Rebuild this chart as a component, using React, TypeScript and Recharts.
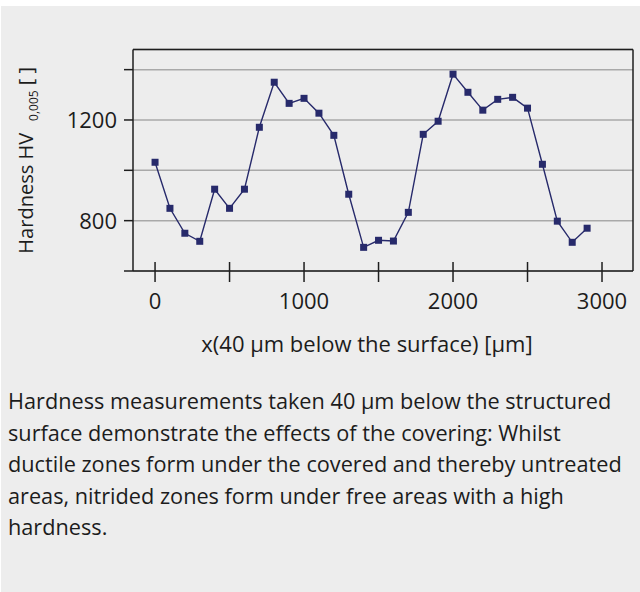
import { LineChart, Line, XAxis, YAxis, CartesianGrid, ReferenceLine } from "recharts";

const depthUm = [
  0, 100, 200, 300, 400, 500, 600, 700, 800, 900, 1000, 1100, 1200, 1300, 1400,
  1500, 1600, 1700, 1800, 1900, 2000, 2100, 2200, 2300, 2400, 2500, 2600, 2700, 2800, 2900,
];
const hardnessHV = [
  1032, 849, 750, 718, 925, 849, 925, 1171, 1350, 1266, 1286, 1227, 1139, 905, 694,
  722, 719, 833, 1143, 1195, 1382, 1310, 1239, 1282, 1290, 1247, 1024, 798, 714, 770,
];
const xTicks = [0, 500, 1000, 1500, 2000, 2500, 3000];
const xLabeled = [0, 1000, 2000, 3000];
const yTicks = [600, 800, 1000, 1200, 1400];
const yLabeled = [800, 1200];
const xDomain = [-148, 3208];
const yDomain = [600, 1480];

const captionLines = [
  "Hardness measurements taken 40 µm below the structured",
  "surface demonstrate the effects of the covering: Whilst",
  "ductile zones form under the covered and thereby untreated",
  "areas, nitrided zones form under free areas with a high",
  "hardness.",
];

const data = depthUm.map((x, i) => ({ x, hv: hardnessHV[i] }));

const FONT = "'Open Sans', sans-serif";
const TEXT = "#1c1c1c";
const NAVY = "#272a6b";
const FRAME = "#1e1e1e";

function XTick(props: any) {
  const { x, y, payload } = props;
  return (
    <g>
      <line x1={x} x2={x} y1={y - 9} y2={y + 11} stroke={FRAME} strokeWidth={1.5} />
      {xLabeled.includes(payload.value) && (
        <text x={x} y={y + 38} textAnchor="middle" fontSize={22} fontFamily={FONT} fill={TEXT}>
          {payload.value}
        </text>
      )}
    </g>
  );
}

function YTick(props: any) {
  const { x, y, payload } = props;
  if (!yLabeled.includes(payload.value)) return null;
  return (
    <text x={x} y={y} dy={8} textAnchor="end" fontSize={22} fontFamily={FONT} fill={TEXT}>
      {payload.value}
    </text>
  );
}

function SquareDot(props: any) {
  const { cx, cy, index } = props;
  return <rect key={index} x={cx - 3.5} y={cy - 3.5} width={7} height={7} fill={NAVY} />;
}

function YLabel(props: any) {
  const vb = props.viewBox;
  const cy = vb.y + vb.height / 2;
  return (
    <text
      x={33}
      y={cy}
      transform={`rotate(-90, 33, ${cy})`}
      textAnchor="middle"
      fontSize={20}
      fontFamily={FONT}
      fill={TEXT}
    >
      Hardness HV
      <tspan dx={12} dy={5} fontSize={12}>0,005</tspan>
      <tspan dy={-5} fontSize={20}> [ ]</tspan>
    </text>
  );
}

function XLabel(props: any) {
  const vb = props.viewBox;
  return (
    <text
      x={vb.x + vb.width / 2 - 16}
      y={352}
      textAnchor="middle"
      fontSize={22}
      fontFamily={FONT}
      fill={TEXT}
    >
      x(40 µm below the surface) [µm]
    </text>
  );
}

export default function App() {
  return (
    <div style={{ position: "absolute", left: 0, top: 0, width: 640, height: 592, background: "#ffffff" }}>
      <div style={{ position: "absolute", left: 1, top: 6, width: 639, height: 586, background: "#ededed" }} />
      <div style={{ position: "absolute", left: 0, top: 0 }}>
        <LineChart width={640} height={370} data={data} margin={{ top: 49.5, right: 7, bottom: 0, left: 0 }}>
          <CartesianGrid vertical={false} stroke="#a9a9a9" strokeWidth={1.5} />
          <XAxis
            dataKey="x"
            type="number"
            domain={xDomain}
            ticks={xTicks}
            allowDataOverflow
            height={99}
            tickSize={0}
            tickMargin={0}
            tickLine={false}
            axisLine={{ stroke: FRAME, strokeWidth: 1.5 }}
            tick={XTick}
            label={<XLabel />}
          />
          <YAxis
            type="number"
            domain={yDomain}
            ticks={yTicks}
            allowDataOverflow
            width={133}
            tickSize={9}
            tickMargin={7}
            tickLine={{ stroke: FRAME, strokeWidth: 1.5 }}
            axisLine={{ stroke: FRAME, strokeWidth: 1.5 }}
            tick={YTick}
            label={<YLabel />}
          />
          <ReferenceLine y={yDomain[1]} stroke={FRAME} strokeWidth={1.5} />
          <ReferenceLine x={xDomain[1]} stroke={FRAME} strokeWidth={1.5} />
          <Line
            dataKey="hv"
            stroke={NAVY}
            strokeWidth={1.4}
            dot={SquareDot}
            activeDot={false}
            isAnimationActive={false}
          />
        </LineChart>
      </div>
      <div
        style={{
          position: "absolute",
          left: 8,
          top: 385,
          fontFamily: FONT,
          fontSize: 21.7,
          lineHeight: "31.5px",
          color: TEXT,
          whiteSpace: "nowrap",
        }}
      >
        {captionLines.map((line) => (
          <div key={line}>{line}</div>
        ))}
      </div>
    </div>
  );
}
